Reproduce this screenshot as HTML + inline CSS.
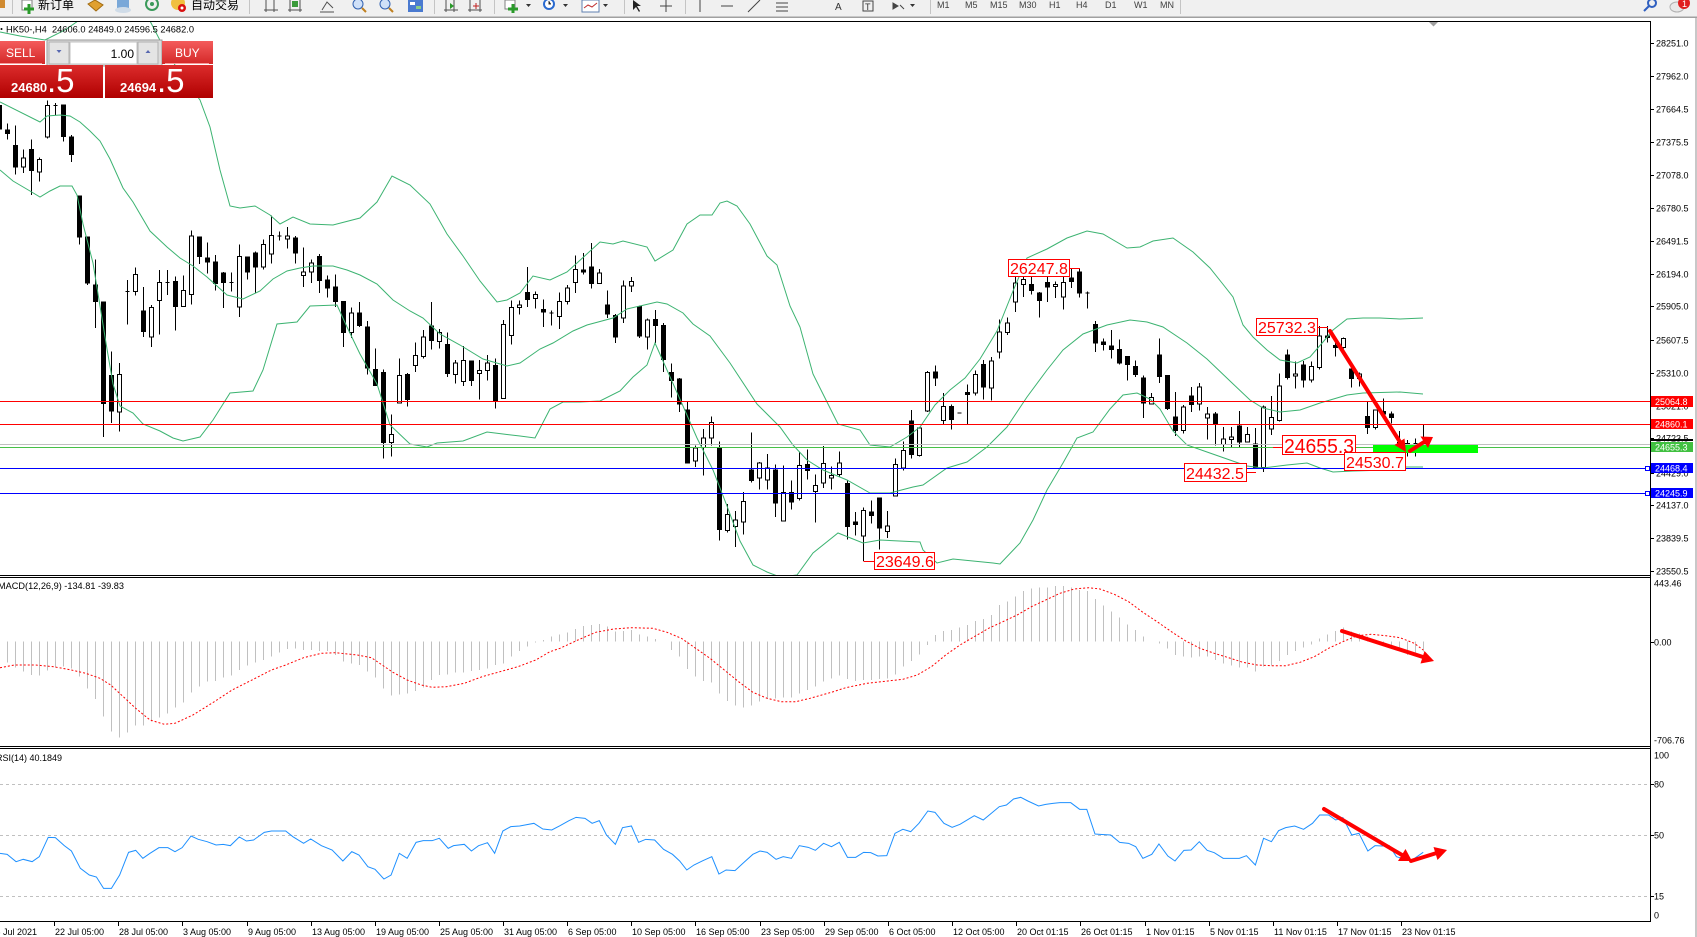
<!DOCTYPE html>
<html><head><meta charset="utf-8"><style>
body{margin:0;background:#fff;width:1697px;height:937px;overflow:hidden}
svg{display:block}
.n{vector-effect:non-scaling-stroke}
text{font-family:"Liberation Sans",Arial,sans-serif}
.c{font-family:"Liberation Sans","Noto Sans CJK SC",sans-serif}
</style></head><body>
<svg width="1697" height="937" viewBox="0 0 1697 937" xmlns="http://www.w3.org/2000/svg">
<defs>
<clipPath id="cm"><rect x="0" y="22" width="1650" height="553"/></clipPath>
<clipPath id="cmacd"><rect x="0" y="578" width="1650" height="168"/></clipPath>
<clipPath id="crsi"><rect x="0" y="749" width="1650" height="172"/></clipPath>
<linearGradient id="gb" x1="0" y1="0" x2="0" y2="1"><stop offset="0" stop-color="#f45c5c"/><stop offset="1" stop-color="#d42828"/></linearGradient>
<linearGradient id="gp" x1="0" y1="0" x2="0" y2="1"><stop offset="0" stop-color="#dc2c2c"/><stop offset="1" stop-color="#b00000"/></linearGradient>
</defs>
<rect width="1697" height="937" fill="#fff"/>

<!-- toolbar -->
<rect x="0" y="0" width="1697" height="17" fill="#f0f0f0"/>
<rect x="0" y="16.5" width="1697" height="1.5" fill="#a0a0a0"/>
<rect x="0" y="0" width="5" height="8" fill="#d08a30"/>
<g stroke="#c4c4c4"><path d="M12.5 0V14M249.5 0V14M434.5 0V14M494.5 0V14M624.5 0V14M685.5 0V14M930.5 0V14M1180.5 0V14"/></g>
<rect x="22" y="0" width="10" height="10" fill="#fff" stroke="#808080"/>
<path d="M29 4v10M24 9h10" stroke="#2a9a2a" stroke-width="3"/>
<text class="c" x="38" y="9" font-size="12">新订单</text>
<path d="M88 4l7-4 8 5-7 6z" fill="#e0a030" stroke="#a06a10"/>
<rect x="117" y="0" width="12" height="8" fill="#7aa8d8"/><ellipse cx="123" cy="10" rx="8" ry="3" fill="#d0dce8"/>
<circle cx="152" cy="4" r="6" fill="none" stroke="#3a9a5a" stroke-width="2"/><circle cx="152" cy="4" r="2" fill="#3a9a5a"/>
<circle cx="178" cy="3" r="7" fill="#f0c040"/><circle cx="182" cy="8" r="4" fill="#d81010"/><circle cx="182" cy="8" r="1.5" fill="#fff"/>
<text class="c" x="191" y="9" font-size="12">自动交易</text>
<g stroke="#505050" fill="none">
<path d="M266 0v12M274 0v12M264 10h14"/>
<path d="M290 0v12M300 0v12M288 10h14"/><rect x="292" y="1" width="6" height="6" fill="#3a9a3a" stroke="none"/>
<path d="M322 10l5-8 6 6M320 12h14"/>
<path d="M446 0v12M454 0v12M444 10h14M470 0v12M480 0v12M468 10h14"/>
</g>
<circle cx="358" cy="4" r="5" fill="#cfe0f8" stroke="#3060b0"/><path d="M362 8l4 4" stroke="#c08020" stroke-width="2"/>
<circle cx="385" cy="4" r="5" fill="#cfe0f8" stroke="#3060b0"/><path d="M389 8l4 4" stroke="#c08020" stroke-width="2"/>
<rect x="408" y="0" width="15" height="12" fill="#4a7ad0"/><rect x="410" y="2" width="5" height="3" fill="#fff"/><rect x="416" y="6" width="5" height="3" fill="#8c8"/>
<path d="M450 3l4 3-4 3z" fill="#2a9a2a"/><path d="M476 3v6M473 6h6" stroke="#c02020"/>
<rect x="505" y="0" width="10" height="9" fill="#fff" stroke="#808080"/><path d="M513 4v9M508 9h10" stroke="#2a9a2a" stroke-width="3"/>
<path d="M526 4h5l-2.5 3z" fill="#333"/>
<circle cx="549" cy="4" r="6" fill="#2a6ad0"/><circle cx="549" cy="4" r="4" fill="#fff"/><path d="M549 1v3h2" stroke="#333"/>
<path d="M563 4h5l-2.5 3z" fill="#333"/>
<rect x="582" y="0" width="17" height="12" fill="#fff" stroke="#6080b0"/><path d="M584 8l4-3 4 2 5-4" stroke="#c03030" fill="none"/>
<path d="M603 4h5l-2.5 3z" fill="#333"/>
<path d="M633 0l0 10 3-3 3 5 1-1-3-5 4 0z" fill="#222"/>
<path d="M666 0v12M660 6h12" stroke="#444"/>
<path d="M700 0v12M721 6h12M748 12l12-12M776 3h12M776 7h12M776 11h12" stroke="#444"/>
<text x="835" y="10" font-size="10" fill="#333">A</text>
<rect x="863" y="1" width="10" height="10" fill="none" stroke="#444"/><text x="865" y="10" font-size="9" fill="#333">T</text>
<path d="M893 3l5 3-5 3zM900 5l4 4" stroke="#444" fill="#444"/><path d="M910 4h5l-2.5 3z" fill="#333"/>
<g font-size="9" fill="#404040"><text x="937" y="8">M1</text><text x="965" y="8">M5</text><text x="990" y="8">M15</text><text x="1019" y="8">M30</text><text x="1049" y="8">H1</text><text x="1076" y="8">H4</text><text x="1105" y="8">D1</text><text x="1134" y="8">W1</text><text x="1160" y="8">MN</text></g>
<circle cx="1652" cy="3" r="4" fill="none" stroke="#3060c0" stroke-width="2"/><path d="M1649 6l-5 5" stroke="#3060c0" stroke-width="2"/>
<ellipse cx="1677" cy="7" rx="7" ry="5" fill="#e8e8e8" stroke="#b0b0b0"/>
<circle cx="1684" cy="3" r="6" fill="#e02020"/><text x="1682" y="7" font-size="9" fill="#fff">1</text>
<rect x="1695" y="18" width="2" height="919" fill="#c8c8c8"/>

<!-- frames -->
<g stroke="#000" shape-rendering="crispEdges">
<path d="M0 21.5H1650M0 575.5H1650M0 577.5H1650M0 746.5H1650M0 748.5H1650M0 921.5H1650M1650.5 21V922"/>
</g>
<path d="M1429 22h9l-4.5 4.5z" fill="#a0a0a0"/>

<!-- candles -->
<g clip-path="url(#cm)">
<g transform="translate(0,20) scale(1,0.357143)" stroke="#000" shape-rendering="crispEdges">
<path class="n" fill="none" d="M-0.5 235V305M7.5 290V335M15.5 295V432M23.5 362V428M31.5 335V490M39.5 385V452M47.5 225V332M55.5 232V268M63.5 238V340M71.5 322V398M79.5 493V628M87.5 607V742M95.5 670V862M103.5 790V1168M111.5 928V1128M119.5 960V1152M127.5 728V853M135.5 693V772M143.5 748V887M151.5 798V915M159.5 700V880M167.5 700V770M175.5 718V870M183.5 715V802M191.5 590V797M199.5 607V683M207.5 623V710M215.5 658V757M223.5 705V807M231.5 707V760M239.5 628V832M247.5 663V727M255.5 648V765M263.5 615V698M271.5 548V682M279.5 592V617M287.5 580V640M295.5 605V682M303.5 637V748M311.5 670V737M319.5 655V765M327.5 715V777M335.5 712V803M343.5 788V915M351.5 805V890M359.5 790V860M367.5 843V993M375.5 920V1023M383.5 978V1228M391.5 1105V1222M399.5 948V1072M407.5 988V1082M415.5 903V985M423.5 868V948M431.5 790V922M439.5 865V920M447.5 875V1000M455.5 952V1018M463.5 913V1025M471.5 955V1025M479.5 952V1063M487.5 938V1010M495.5 948V1088M503.5 840V1060M511.5 785V908M519.5 786V825M527.5 692V803M535.5 760V808M543.5 782V860M551.5 813V855M559.5 763V865M567.5 742V797M575.5 660V765M583.5 653V712M591.5 625V752M599.5 697V738M607.5 757V835M615.5 823V905M623.5 730V848M631.5 720V762M639.5 800V890M647.5 836V922M655.5 812V905M663.5 848V985M671.5 962V1057M679.5 1003V1097M687.5 1070V1242M695.5 1192V1252M703.5 1145V1275M711.5 1110V1192M719.5 1180V1458M727.5 1355V1435M735.5 1375V1475M743.5 1322V1440M751.5 1155V1295M759.5 1238V1315M767.5 1215V1315M775.5 1245V1392M783.5 1248V1403M791.5 1290V1370M799.5 1210V1345M807.5 1202V1287M815.5 1272V1407M823.5 1193V1310M831.5 1250V1315M839.5 1208V1278M847.5 1290V1455M855.5 1378V1443M863.5 1365V1515M871.5 1345V1410M879.5 1338V1483M887.5 1375V1450M895.5 1228V1333M903.5 1180V1262M911.5 1092V1228M919.5 1140V1222M927.5 983V1097M935.5 968V1025M943.5 1045V1132M951.5 1077V1147M967.5 1020V1132M975.5 982V1052M983.5 952V1062M991.5 943V1065M999.5 838V948M1007.5 833V882M1015.5 720V818M1023.5 718V775M1031.5 705V768M1039.5 762V833M1047.5 720V790M1055.5 732V778M1063.5 715V810M1071.5 695V750M1079.5 695V777M1087.5 760V808M1095.5 843V930M1103.5 892V925M1111.5 868V948M1119.5 895V965M1127.5 942V1010M1135.5 953V1000M1143.5 995V1115M1151.5 1045V1077M1159.5 892V1017M1167.5 995V1092M1175.5 1042V1165M1183.5 1078V1158M1191.5 1028V1098M1199.5 1017V1093M1207.5 1083V1175M1215.5 1097V1192M1223.5 1140V1208M1231.5 1140V1197M1239.5 1095V1198M1247.5 1140V1183M1255.5 1142V1253M1263.5 1080V1265"/>
<path class="n" fill="#000" d="M-2.5 240h4V305h-4zM5.5 308h4V318h-4zM13.5 352h4V412h-4zM29.5 362h4V422h-4zM61.5 238h4V326h-4zM69.5 328h4V377h-4zM77.5 493h4V607h-4zM85.5 607h4V737h-4zM93.5 742h4V788h-4zM101.5 790h4V1074h-4zM109.5 995h4V1095h-4zM141.5 815h4V872h-4zM173.5 732h4V802h-4zM197.5 607h4V662h-4zM205.5 667h4V678h-4zM213.5 678h4V738h-4zM221.5 708h4V735h-4zM245.5 663h4V705h-4zM253.5 652h4V692h-4zM293.5 610h4V653h-4zM317.5 662h4V730h-4zM325.5 728h4V750h-4zM333.5 748h4V788h-4zM341.5 788h4V875h-4zM357.5 820h4V855h-4zM365.5 860h4V975h-4zM373.5 978h4V1023h-4zM381.5 987h4V1183h-4zM405.5 992h4V1062h-4zM429.5 857h4V897h-4zM445.5 908h4V990h-4zM469.5 955h4V1010h-4zM493.5 967h4V1067h-4zM525.5 763h4V782h-4zM541.5 810h4V818h-4zM581.5 700h4V705h-4zM589.5 692h4V738h-4zM605.5 798h4V823h-4zM613.5 827h4V887h-4zM637.5 802h4V885h-4zM653.5 838h4V855h-4zM661.5 855h4V950h-4zM669.5 987h4V1010h-4zM677.5 1005h4V1075h-4zM685.5 1092h4V1240h-4zM717.5 1197h4V1427h-4zM749.5 1260h4V1290h-4zM773.5 1260h4V1352h-4zM789.5 1323h4V1350h-4zM805.5 1245h4V1262h-4zM845.5 1298h4V1418h-4zM853.5 1405h4V1412h-4zM869.5 1378h4V1388h-4zM877.5 1338h4V1422h-4zM909.5 1123h4V1217h-4zM933.5 985h4V1003h-4zM949.5 1082h4V1118h-4zM965.5 1043h4V1048h-4zM981.5 965h4V1027h-4zM1029.5 740h4V758h-4zM1037.5 765h4V785h-4zM1045.5 735h4V748h-4zM1069.5 722h4V732h-4zM1077.5 705h4V765h-4zM1093.5 853h4V905h-4zM1101.5 902h4V908h-4zM1109.5 913h4V922h-4zM1117.5 922h4V960h-4zM1125.5 942h4V965h-4zM1133.5 970h4V993h-4zM1141.5 1002h4V1073h-4zM1157.5 938h4V998h-4zM1165.5 995h4V1088h-4zM1173.5 1112h4V1150h-4zM1189.5 1053h4V1077h-4zM1213.5 1103h4V1130h-4zM1237.5 1137h4V1182h-4zM1253.5 1187h4V1253h-4z"/>
<path class="n" fill="#fff" d="M21.5 387h4V412h-4zM37.5 390h4V425h-4zM45.5 240h4V328h-4zM117.5 992h4V1098h-4zM133.5 712h4V760h-4zM149.5 805h4V888h-4zM157.5 735h4V785h-4zM181.5 757h4V802h-4zM189.5 605h4V768h-4zM237.5 662h4V803h-4zM261.5 628h4V692h-4zM269.5 603h4V655h-4zM285.5 605h4V613h-4zM301.5 705h4V715h-4zM309.5 680h4V705h-4zM349.5 820h4V875h-4zM389.5 1160h4V1183h-4zM397.5 995h4V1072h-4zM413.5 940h4V968h-4zM421.5 888h4V942h-4zM437.5 875h4V900h-4zM453.5 960h4V992h-4zM461.5 953h4V1012h-4zM477.5 982h4V990h-4zM485.5 960h4V982h-4zM501.5 852h4V1060h-4zM509.5 805h4V883h-4zM517.5 798h4V805h-4zM533.5 768h4V780h-4zM557.5 788h4V830h-4zM565.5 750h4V788h-4zM573.5 698h4V735h-4zM597.5 708h4V738h-4zM621.5 745h4V835h-4zM629.5 732h4V745h-4zM645.5 840h4V888h-4zM693.5 1198h4V1235h-4zM701.5 1170h4V1197h-4zM709.5 1127h4V1170h-4zM725.5 1385h4V1430h-4zM733.5 1400h4V1418h-4zM741.5 1348h4V1405h-4zM757.5 1240h4V1282h-4zM765.5 1255h4V1288h-4zM781.5 1323h4V1403h-4zM797.5 1247h4V1340h-4zM813.5 1303h4V1320h-4zM821.5 1242h4V1297h-4zM829.5 1275h4V1283h-4zM837.5 1240h4V1272h-4zM861.5 1373h4V1445h-4zM885.5 1417h4V1432h-4zM893.5 1245h4V1333h-4zM901.5 1205h4V1255h-4zM917.5 1142h4V1220h-4zM925.5 987h4V1095h-4zM941.5 1082h4V1122h-4zM973.5 992h4V1045h-4zM989.5 955h4V1030h-4zM997.5 873h4V930h-4zM1005.5 848h4V875h-4zM1013.5 737h4V790h-4zM1021.5 727h4V740h-4zM1053.5 740h4V746h-4zM1061.5 735h4V775h-4zM1149.5 1057h4V1075h-4zM1181.5 1083h4V1150h-4zM1197.5 1027h4V1075h-4zM1205.5 1103h4V1115h-4zM1221.5 1173h4V1188h-4zM1229.5 1168h4V1175h-4zM1245.5 1160h4V1182h-4zM1261.5 1083h4V1253h-4z"/>
<path class="n" fill="none" d="M53.5 240h4M125.5 760h4M165.5 735h4M229.5 735h4M277.5 605h4M549.5 820h4M957.5 1100h4M1085.5 765h4"/>
</g>
<g transform="translate(0,250) scale(1,0.333333)" stroke="#000" shape-rendering="crispEdges">
<path class="n" fill="none" d="M1271.5 438V555M1279.5 370V515M1287.5 298V388M1295.5 335V415M1303.5 333V412M1311.5 335V398M1319.5 228V358M1327.5 228V278M1335.5 270V320M1343.5 262V295M1351.5 348V412M1359.5 368V410M1367.5 455V552M1375.5 478V538M1383.5 445V505M1391.5 485V520M1399.5 543V600M1407.5 570V620M1415.5 565V620M1423.5 522V600"/>
<path class="n" fill="#000" d="M1285.5 315h4V382h-4zM1301.5 345h4V390h-4zM1325.5 258h4V262h-4zM1333.5 287h4V292h-4zM1349.5 357h4V385h-4zM1365.5 500h4V532h-4zM1381.5 485h4V492h-4zM1389.5 492h4V502h-4zM1397.5 578h4V582h-4zM1405.5 580h4V585h-4z"/>
<path class="n" fill="#fff" d="M1269.5 502h4V537h-4zM1277.5 408h4V512h-4zM1293.5 372h4V378h-4zM1309.5 350h4V390h-4zM1317.5 258h4V353h-4zM1341.5 265h4V292h-4zM1357.5 372h4V385h-4zM1373.5 480h4V532h-4zM1421.5 580h4V590h-4z"/>
<path class="n" fill="none" d="M1413.5 580h4"/>
</g>

<!-- bollinger -->
<g fill="none" stroke="#3cb371" stroke-width="1">
<polyline points="0,32 20,36 45,40 65,30 78,21 100,5 130,5 150,21 165,50 185,80 200,100 210,127 220,170 230,206 240,208 255,206 270,215 280,224 293,217 310,224 333,225 360,218 377,202 392,176 410,185 430,204 447,234 463,256 480,281 497,302 507,300 520,293 533,276 550,280 567,272 577,263 600,242 613,244 623,241 647,247 655,261 673,250 687,224 700,215 712,215 720,203 727,201 737,206 750,224 767,256 777,265 790,306 800,327 813,374 827,402 838,424 860,430 870,445 890,447 907,437 920,427 935,405 950,390 965,378 980,359 997,331 1013,291 1027,258 1047,249 1067,238 1087,231 1103,234 1127,248 1140,247 1153,241 1173,238 1193,252 1210,268 1222,283 1233,297 1243,325 1253,337 1267,350 1280,360 1297,363 1310,357 1323,342 1333,330 1347,319 1363,318 1380,318 1400,319 1423,318"/>
<polyline points="0,102 40,122 47,116 60,115 70,116 80,122 90,131 100,141 110,159 123,188 133,202 150,231 167,247 180,258 193,266 207,277 227,295 243,299 260,291 273,279 287,271 300,268 313,266 333,266 347,270 360,275 377,284 393,300 410,311 423,318 440,334 460,345 483,359 507,366 520,363 540,349 553,343 573,331 587,325 613,318 627,309 640,306 657,302 667,304 683,313 693,324 710,336 730,363 757,404 780,427 793,445 807,460 823,470 847,480 870,493 890,493 913,487 923,485 947,468 967,462 987,447 1007,427 1027,397 1047,370 1063,350 1083,334 1107,325 1130,320 1147,322 1163,327 1187,343 1207,359 1230,381 1250,400 1263,408 1280,412 1300,410 1320,403 1347,395 1363,393 1400,392 1423,394"/>
<polyline points="0,170 13,181 30,191 40,197 50,191 60,186 72,186 77,195 83,224 93,263 100,306 107,349 113,384 120,406 133,413 143,424 160,431 173,438 183,441 200,437 213,420 230,393 253,391 263,370 277,324 297,322 310,306 337,305 347,327 360,354 377,384 390,425 410,444 427,447 437,443 463,441 487,432 503,434 520,436 535,438 550,409 563,402 580,402 600,401 620,391 633,377 647,365 655,343 667,370 683,406 697,438 713,470 727,506 740,541 753,565 767,572 780,577 797,575 813,553 838,533 863,543 880,540 920,542 923,550 937,563 953,559 993,563 1000,564 1020,543 1033,520 1047,490 1063,463 1077,438 1093,432 1110,409 1123,395 1137,393 1150,399 1160,409 1173,431 1187,445 1207,452 1227,459 1247,466 1263,468 1287,465 1307,463 1320,468 1333,472 1353,471 1387,470 1400,467 1423,467"/>
</g>
</g>

<!-- horizontal lines -->
<g shape-rendering="crispEdges" stroke-width="1">
<path d="M0 401.5H1650M0 424.5H1650" stroke="#ff0000"/>
<path d="M0 444.5H1650" stroke="#c0c0c0"/>
<path d="M0 447.5H1650" stroke="#48c048"/>
<path d="M0 468.5H1647M0 493.5H1647" stroke="#0000ff"/>
</g>
<rect x="1645.5" y="466.5" width="4" height="4" fill="#fff" stroke="#0000ff"/>
<rect x="1645.5" y="491.5" width="4" height="4" fill="#fff" stroke="#0000ff"/>
<rect x="1373" y="445" width="105" height="8" fill="#00ff00"/>

<!-- price markers -->
<g fill="#fff" stroke="#ff0000" stroke-width="1">
<path d="M1069 268.5H1080M863.5 561.5H874M1246 472.5H1256M1317 327.5H1328M1273 447.5H1283" fill="none"/>
<rect x="1008.5" y="259.5" width="61" height="17"/>
<rect x="874.5" y="552.5" width="60" height="17"/>
<rect x="1184.5" y="463.5" width="62" height="18"/>
<rect x="1256.5" y="318.5" width="61" height="17"/>
<rect x="1282.5" y="435.5" width="73" height="19"/>
<rect x="1344.5" y="452.5" width="61" height="18"/>
</g>
<g fill="#ff0000" font-size="16">
<text x="1010" y="274">26247.8</text>
<text x="876" y="567">23649.6</text>
<text x="1186" y="479">24432.5</text>
<text x="1258" y="333">25732.3</text>
<text x="1284" y="453" font-size="20" textLength="70" lengthAdjust="spacingAndGlyphs">24655.3</text>
<text x="1346" y="468">24530.7</text>
</g>

<!-- MACD -->
<g clip-path="url(#cmacd)">
<g transform="translate(0,575) scale(1,0.333333)" stroke="#c0c0c0" shape-rendering="crispEdges">
<path class="n" fill="none" d="M7.5 200V262M15.5 200V278M23.5 200V290M31.5 200V300M39.5 200V302M47.5 200V287M55.5 200V278M63.5 200V275M71.5 200V280M79.5 200V305M87.5 200V340M95.5 200V372M103.5 200V425M111.5 200V470M119.5 200V488M127.5 200V472M135.5 200V452M143.5 200V452M151.5 200V440M159.5 200V428M167.5 200V415M175.5 200V398M183.5 200V383M191.5 200V352M199.5 200V335M207.5 200V320M215.5 200V318M223.5 200V308M231.5 200V302M239.5 200V285M247.5 200V272M255.5 200V262M263.5 200V255M271.5 200V245M279.5 200V232M287.5 200V222M295.5 200V220M303.5 200V225M311.5 200V225M319.5 200V228M327.5 200V228M335.5 200V240M343.5 200V260M351.5 200V265M359.5 200V270M367.5 200V290M375.5 200V308M383.5 200V340M391.5 200V362M399.5 200V358M407.5 200V355M415.5 200V348M423.5 200V338M431.5 200V315M439.5 200V300M447.5 200V298M455.5 200V292M463.5 200V292M471.5 200V288M479.5 200V285M487.5 200V280M495.5 200V270M503.5 200V265M511.5 200V245M519.5 200V228M527.5 200V215M535.5 200V203M543.5 200V195M551.5 200V185M559.5 200V178M567.5 200V173M575.5 200V162M583.5 200V153M591.5 200V150M599.5 200V147M607.5 200V155M615.5 200V170M623.5 200V168M631.5 200V165M639.5 200V178M647.5 200V185M655.5 200V192M671.5 200V225M679.5 200V245M687.5 200V282M695.5 200V305M703.5 200V318M711.5 200V322M719.5 200V355M727.5 200V378M735.5 200V392M743.5 200V398M751.5 200V392M759.5 200V380M767.5 200V372M775.5 200V370M783.5 200V368M791.5 200V368M799.5 200V355M807.5 200V345M815.5 200V335M823.5 200V320M831.5 200V310M839.5 200V302M847.5 200V312M855.5 200V318M863.5 200V315M871.5 200V315M879.5 200V312M887.5 200V310M895.5 200V298M903.5 200V275M911.5 200V258M919.5 200V238M927.5 200V210M935.5 200V180M943.5 200V168M951.5 200V165M959.5 200V158M967.5 200V150M975.5 200V138M983.5 200V132M991.5 200V120M999.5 200V90M1007.5 200V80M1015.5 200V65M1023.5 200V48M1031.5 200V40M1039.5 200V38M1047.5 200V38M1055.5 200V33M1063.5 200V33M1071.5 200V38M1079.5 200V45M1087.5 200V48M1095.5 200V72M1103.5 200V92M1111.5 200V110M1119.5 200V128M1127.5 200V148M1135.5 200V165M1143.5 200V185M1159.5 200V205M1167.5 200V220M1175.5 200V240M1183.5 200V245M1191.5 200V248M1199.5 200V245M1207.5 200V245M1215.5 200V255M1223.5 200V265M1231.5 200V272M1239.5 200V278M1247.5 200V278M1255.5 200V290M1263.5 200V275M1271.5 200V272M1279.5 200V258M1287.5 200V240M1295.5 200V228M1303.5 200V218M1311.5 200V208M1319.5 200V190M1327.5 200V178M1335.5 200V168M1343.5 200V158M1351.5 200V170M1359.5 200V175M1367.5 200V185M1375.5 200V195M1383.5 200V210M1391.5 200V220M1399.5 200V230M1407.5 200V240M1415.5 200V245M1423.5 200V230"/>
</g>
<polyline fill="none" stroke="#ff0000" stroke-width="1" stroke-dasharray="2 2" points="0,667.7 14.3,665 35.7,665 53.6,666.7 71.4,670 85.7,673.3 100,678.3 110.7,685 125,698.3 135.7,708.3 150,720 164.3,724.3 175,723.3 192.9,715 214.3,701.7 232.1,690 250,681 271.4,670 285.7,665 303.6,657.7 321.4,653.3 335.7,652.7 357.1,655 371.4,657.7 382.1,665 392.9,672.3 407.1,680 421.4,685 432.1,687.3 446.4,686.7 464.3,683.3 482.1,676.7 500,671.7 517.9,666.7 535.7,660 550,651.7 560,648.3 577.9,640 595.7,632.3 613.6,629 631.4,627.7 652.9,628.3 667.1,632.3 681.4,638.3 695.7,648.3 710,658.3 724.3,670 738.6,681.7 752.9,692.3 767.1,698.3 781.4,701.7 795.7,701.7 810,698.3 831.4,692.3 845.7,687.7 867.1,683.3 881.4,681.7 902.9,679.3 917.1,675 931.4,666.7 945.7,655 960,645 974.3,636.7 988.6,628.3 1002.9,621.7 1017.1,615 1031.4,606.7 1045.7,600 1060,593.3 1074.3,589 1088.6,587.7 1100,589 1114.3,594.3 1128.6,601.7 1142.9,612.3 1157.1,621.7 1171.4,631.7 1185.7,641 1200,648.3 1214.3,653.3 1228.6,657.7 1242.9,662.3 1257.1,665 1271.4,665.7 1285.7,665.7 1300,662.3 1314.3,656.7 1328.6,648.3 1342.9,641.7 1357.1,635.7 1371.4,634.3 1385.7,635.7 1400,637.7 1414.3,643.3 1423.2,650"/>
</g>

<!-- RSI -->
<g stroke="#c0c0c0" stroke-dasharray="3 3" shape-rendering="crispEdges"><path d="M0 784.5H1650M0 835.5H1650M0 896.5H1650"/></g>
<g clip-path="url(#crsi)" fill="none" stroke="#1e90ff" stroke-width="1">
<g transform="translate(0,575) scale(0.357143,0.333333)"><polyline class="n" points="0,835 20,838 45,860 65,853 90,860 110,845 135,787 155,788 180,812 200,828 225,880 250,900 270,906 290,940 312,940 335,900 360,832 380,826 400,850 420,835 445,818 470,818 490,830 510,818 535,783 555,793 580,800 605,810 625,808 645,812 670,786 690,798 710,795 740,772 760,768 800,768 820,785 850,805 870,792 900,812 930,825 960,858 985,830 1005,840 1030,875 1050,883 1075,912 1095,900 1118,835 1140,850 1165,802 1185,797 1210,797 1230,790 1255,820 1270,812 1300,808 1320,828 1340,812 1365,803 1385,835 1408,768 1430,755 1455,753 1470,750 1495,745 1520,762 1545,765 1568,752"/></g>
<g transform="translate(560,575) scale(0.357143,0.333333)"><polyline class="n" points="0,752 25,737 45,727 70,730 90,745 110,737 130,780 155,808 175,758 200,753 220,802 240,793 265,795 290,823 315,838 335,858 355,885 375,870 400,857 425,845 445,897 465,885 490,887 515,862 540,838 560,828 580,832 605,853 625,845 648,850 670,812 695,817 715,826 738,805 760,815 782,802 805,847 828,847 850,832 870,833 890,843 915,842 938,775 960,763 982,770 1005,745 1030,708 1050,712 1075,745 1098,757 1120,748 1160,722 1185,735 1210,713 1230,695 1250,690 1270,672 1290,667 1310,678 1340,693 1360,688 1380,685 1400,683 1430,683 1455,703 1475,703 1498,777 1512,778"/></g>
<g transform="translate(1100,575) scale(0.357143,0.333333)"><polyline class="n" points="0,778 30,780 55,802 80,805 100,815 120,850 145,838 165,807 190,843 210,858 235,826 255,825 278,800 300,826 320,833 345,850 390,850 410,842 435,870 458,790 480,800 500,767 520,758 545,753 570,763 595,745 615,720 640,720 660,735 680,728 705,780 725,775 750,828 770,812 790,813 810,812 830,845 870,858 905,832"/></g>
</g>

<!-- arrows -->
<g stroke="#ff0000" stroke-width="4" stroke-linecap="round" fill="#ff0000">
<line x1="1330" y1="331" x2="1400" y2="442"/>
<line x1="1410" y1="451" x2="1424" y2="442"/>
<line x1="1342" y1="631" x2="1423" y2="657"/>
<line x1="1324" y1="809" x2="1402" y2="855"/>
<line x1="1411" y1="861" x2="1435" y2="853.5"/>
</g>
<g fill="#ff0000">
<polygon points="1406,452 1394.5,445 1404.5,438.5"/>
<polygon points="1433,437 1428,448 1420.5,436.5"/>
<polygon points="1434,661 1420.5,663.5 1424.5,651"/>
<polygon points="1412,861 1398,861 1405.5,849"/>
<polygon points="1447,850 1437.5,860 1433.5,847"/>
</g>

<!-- axis -->
<g stroke="#000" shape-rendering="crispEdges"><path d="M1650 43.5h4M1650 76.5h4M1650 109.5h4M1650 142.5h4M1650 175.5h4M1650 208.5h4M1650 241.5h4M1650 274.5h4M1650 306.5h4M1650 340.5h4M1650 373.5h4M1650 406.5h4M1650 438.5h4M1650 473.5h4M1650 505.5h4M1650 538.5h4M1650 571.5h4M1650 642.5h4M1650 784.5h4M1650 835.5h4M1650 896.5h4"/></g>
<g font-size="9" fill="#000">
<text x="1656" y="46.5">28251.0</text><text x="1656" y="79.5">27962.0</text><text x="1656" y="112.5">27664.5</text><text x="1656" y="145.5">27375.5</text><text x="1656" y="178.5">27078.0</text><text x="1656" y="211.5">26780.5</text><text x="1656" y="244.5">26491.5</text><text x="1656" y="277.5">26194.0</text><text x="1656" y="309.5">25905.0</text><text x="1656" y="343.5">25607.5</text><text x="1656" y="376.5">25310.0</text><text x="1656" y="409.5">25021.0</text><text x="1656" y="441.5">24723.5</text><text x="1656" y="476.5">24429.0</text><text x="1656" y="508.5">24137.0</text><text x="1656" y="541.5">23839.5</text><text x="1656" y="574.5">23550.5</text>
<text x="1654" y="586.5">443.46</text><text x="1654" y="645.5">0.00</text><text x="1654" y="743.5">-706.76</text>
<text x="1654" y="758.5">100</text><text x="1654" y="787.5">80</text><text x="1654" y="838.5">50</text><text x="1654" y="899.5">15</text><text x="1654" y="918.5">0</text>
</g>
<rect x="1651" y="439" width="42" height="2" fill="#000"/>
<rect x="1651" y="396" width="42" height="11" fill="#ff0000"/>
<rect x="1651" y="419" width="42" height="10" fill="#ff0000"/>
<rect x="1651" y="442" width="42" height="10" fill="#40c040"/>
<rect x="1651" y="463" width="42" height="10" fill="#0000ff"/>
<rect x="1651" y="488" width="42" height="10" fill="#0000ff"/>
<g font-size="9" fill="#fff">
<text x="1655" y="404.8">25064.8</text><text x="1655" y="427.3">24860.1</text><text x="1655" y="450.3">24655.3</text><text x="1655" y="471.3">24468.4</text><text x="1655" y="496.3">24245.9</text>
</g>

<!-- titles -->
<g font-size="9" fill="#000">
<circle cx="1.5" cy="29" r="1" fill="#000"/>
<text x="6" y="32.3" textLength="188" lengthAdjust="spacingAndGlyphs">HK50-,H4&#160; 24606.0 24849.0 24596.5 24682.0</text>
<text x="-2" y="589" textLength="126" lengthAdjust="spacingAndGlyphs">MACD(12,26,9) -134.81 -39.83</text>
<text x="-4" y="761">RSI(14) 40.1849</text>
</g>

<!-- date axis -->
<g stroke="#000" shape-rendering="crispEdges"><path d="M54.5 922v4M118.5 922v4M182.5 922v4M247.5 922v4M311.5 922v4M375.5 922v4M439.5 922v4M503.5 922v4M567.5 922v4M631.5 922v4M695.5 922v4M760.5 922v4M824.5 922v4M888.5 922v4M952.5 922v4M1016.5 922v4M1080.5 922v4M1145.5 922v4M1209.5 922v4M1273.5 922v4M1337.5 922v4M1401.5 922v4"/></g>
<g font-size="9" fill="#000">
<text x="-9.5" y="935">16 Jul 2021</text>
<text x="55" y="935">22 Jul 05:00</text><text x="119" y="935">28 Jul 05:00</text><text x="183" y="935">3 Aug 05:00</text><text x="248" y="935">9 Aug 05:00</text><text x="312" y="935">13 Aug 05:00</text><text x="376" y="935">19 Aug 05:00</text><text x="440" y="935">25 Aug 05:00</text><text x="504" y="935">31 Aug 05:00</text><text x="568" y="935">6 Sep 05:00</text><text x="632" y="935">10 Sep 05:00</text><text x="696" y="935">16 Sep 05:00</text><text x="761" y="935">23 Sep 05:00</text><text x="825" y="935">29 Sep 05:00</text><text x="889" y="935">6 Oct 05:00</text><text x="953" y="935">12 Oct 05:00</text><text x="1017" y="935">20 Oct 01:15</text><text x="1081" y="935">26 Oct 01:15</text><text x="1146" y="935">1 Nov 01:15</text><text x="1210" y="935">5 Nov 01:15</text><text x="1274" y="935">11 Nov 01:15</text><text x="1338" y="935">17 Nov 01:15</text><text x="1402" y="935">23 Nov 01:15</text>
</g>

<!-- one-click trading panel -->
<rect x="0" y="41" width="45" height="23" fill="url(#gb)"/>
<rect x="47" y="40" width="115" height="26" fill="#dcdcdc" stroke="#9a9a9a"/>
<rect x="49" y="42" width="20" height="22" fill="#e4e4e4" stroke="#b0b0b0"/>
<rect x="70" y="42" width="67" height="22" fill="#fff" stroke="#c0c0c0"/>
<rect x="138" y="42" width="20" height="22" fill="#e4e4e4" stroke="#b0b0b0"/>
<path d="M56.5 50h5l-2.5 3z" fill="#5868b0"/><path d="M145.5 53h5l-2.5-3z" fill="#5868b0"/>
<rect x="162" y="41" width="51" height="23" fill="url(#gb)"/>
<path d="M0 63.5H42M165 63.5H209" stroke="#f89a9a"/>
<rect x="0" y="65" width="103" height="33" fill="url(#gp)"/>
<rect x="105" y="65" width="108" height="33" fill="url(#gp)"/>
<g fill="#fff">
<text x="6" y="57" font-size="12">SELL</text>
<text x="175" y="57" font-size="12">BUY</text>
<text x="11" y="92" font-size="13" font-weight="bold">24680</text>
<text x="47" y="92" font-size="33">.5</text>
<text x="120" y="92" font-size="13" font-weight="bold">24694</text>
<text x="157" y="92" font-size="33">.5</text>
</g>
<text x="134" y="58" font-size="12" fill="#000" text-anchor="end">1.00</text>
</svg>
</body></html>
